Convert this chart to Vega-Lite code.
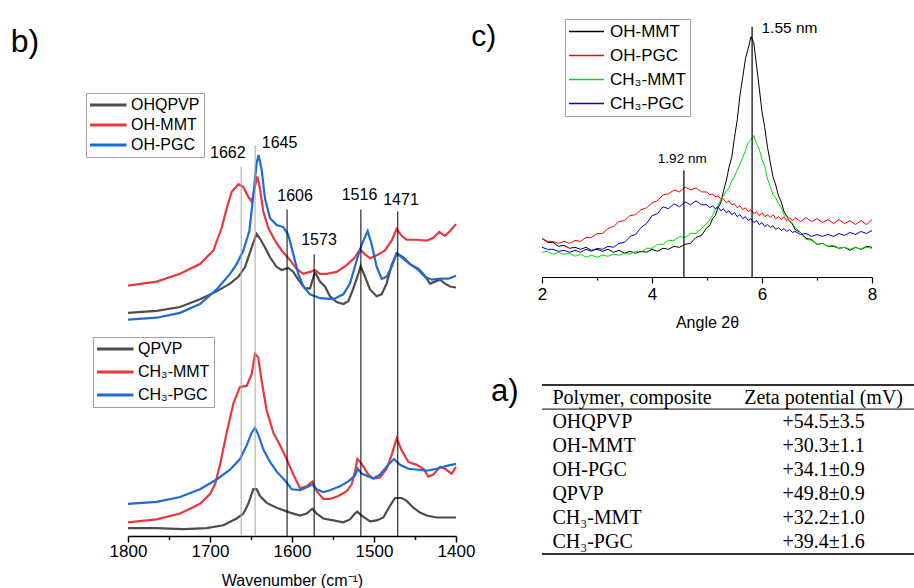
{
  "$schema": "https://vega.github.io/schema/vega-lite/v6.json",
  "padding": {"left": 10, "top": 0, "right": 0, "bottom": 0},
  "config": {"view": {"stroke": null}, "font": "Liberation Sans"},
  "datasets": {
    "ftir_top": [
      {"sample":"OHQPVP","wn":1800,"abs":2.29},{"sample":"OHQPVP","wn":1765,"abs":2.31},{"sample":"OHQPVP","wn":1736.6,"abs":2.35},{"sample":"OHQPVP","wn":1712.2,"abs":2.43},{"sample":"OHQPVP","wn":1691.9,"abs":2.51},{"sample":"OHQPVP","wn":1675.6,"abs":2.59},{"sample":"OHQPVP","wn":1665.4,"abs":2.66},{"sample":"OHQPVP","wn":1657.3,"abs":2.76},{"sample":"OHQPVP","wn":1652.0,"abs":2.89},{"sample":"OHQPVP","wn":1647.2,"abs":3.01},{"sample":"OHQPVP","wn":1643.1,"abs":3.10},{"sample":"OHQPVP","wn":1638.2,"abs":3.04},{"sample":"OHQPVP","wn":1632.9,"abs":2.96},{"sample":"OHQPVP","wn":1626.8,"abs":2.86},{"sample":"OHQPVP","wn":1618.7,"abs":2.76},{"sample":"OHQPVP","wn":1612.6,"abs":2.73},{"sample":"OHQPVP","wn":1604.5,"abs":2.75},{"sample":"OHQPVP","wn":1598.4,"abs":2.71},{"sample":"OHQPVP","wn":1592.3,"abs":2.63},{"sample":"OHQPVP","wn":1584.1,"abs":2.54},{"sample":"OHQPVP","wn":1578.0,"abs":2.54},{"sample":"OHQPVP","wn":1572.0,"abs":2.71},{"sample":"OHQPVP","wn":1565.9,"abs":2.61},{"sample":"OHQPVP","wn":1559.8,"abs":2.56},{"sample":"OHQPVP","wn":1553.7,"abs":2.46},{"sample":"OHQPVP","wn":1545.5,"abs":2.40},{"sample":"OHQPVP","wn":1537.4,"abs":2.38},{"sample":"OHQPVP","wn":1531.3,"abs":2.41},{"sample":"OHQPVP","wn":1525.2,"abs":2.54},{"sample":"OHQPVP","wn":1519.1,"abs":2.69},{"sample":"OHQPVP","wn":1516.3,"abs":2.77},{"sample":"OHQPVP","wn":1511.0,"abs":2.66},{"sample":"OHQPVP","wn":1504.9,"abs":2.53},{"sample":"OHQPVP","wn":1496.7,"abs":2.46},{"sample":"OHQPVP","wn":1490.7,"abs":2.48},{"sample":"OHQPVP","wn":1484.6,"abs":2.59},{"sample":"OHQPVP","wn":1478.5,"abs":2.78},{"sample":"OHQPVP","wn":1472.4,"abs":2.90},{"sample":"OHQPVP","wn":1464.2,"abs":2.86},{"sample":"OHQPVP","wn":1456.1,"abs":2.79},{"sample":"OHQPVP","wn":1445.9,"abs":2.74},{"sample":"OHQPVP","wn":1439.8,"abs":2.69},{"sample":"OHQPVP","wn":1431.7,"abs":2.59},{"sample":"OHQPVP","wn":1425.6,"abs":2.61},{"sample":"OHQPVP","wn":1419.5,"abs":2.63},{"sample":"OHQPVP","wn":1413.4,"abs":2.59},{"sample":"OHQPVP","wn":1407.3,"abs":2.56},{"sample":"OHQPVP","wn":1400,"abs":2.55},
      {"sample":"OH-MMT","wn":1800,"abs":2.57},{"sample":"OH-MMT","wn":1765,"abs":2.61},{"sample":"OH-MMT","wn":1736.6,"abs":2.69},{"sample":"OH-MMT","wn":1712.2,"abs":2.79},{"sample":"OH-MMT","wn":1695.9,"abs":2.93},{"sample":"OH-MMT","wn":1685.8,"abs":3.16},{"sample":"OH-MMT","wn":1679.7,"abs":3.36},{"sample":"OH-MMT","wn":1673.6,"abs":3.53},{"sample":"OH-MMT","wn":1665.4,"abs":3.61},{"sample":"OH-MMT","wn":1659.3,"abs":3.58},{"sample":"OH-MMT","wn":1653.3,"abs":3.48},{"sample":"OH-MMT","wn":1649.2,"abs":3.43},{"sample":"OH-MMT","wn":1645.1,"abs":3.59},{"sample":"OH-MMT","wn":1642.3,"abs":3.69},{"sample":"OH-MMT","wn":1639.0,"abs":3.56},{"sample":"OH-MMT","wn":1635.0,"abs":3.33},{"sample":"OH-MMT","wn":1628.9,"abs":3.16},{"sample":"OH-MMT","wn":1620.7,"abs":3.03},{"sample":"OH-MMT","wn":1612.6,"abs":2.93},{"sample":"OH-MMT","wn":1602.4,"abs":2.83},{"sample":"OH-MMT","wn":1594.3,"abs":2.74},{"sample":"OH-MMT","wn":1586.2,"abs":2.69},{"sample":"OH-MMT","wn":1578.0,"abs":2.71},{"sample":"OH-MMT","wn":1572.0,"abs":2.73},{"sample":"OH-MMT","wn":1565.9,"abs":2.69},{"sample":"OH-MMT","wn":1557.7,"abs":2.69},{"sample":"OH-MMT","wn":1545.5,"abs":2.71},{"sample":"OH-MMT","wn":1533.3,"abs":2.78},{"sample":"OH-MMT","wn":1523.2,"abs":2.86},{"sample":"OH-MMT","wn":1517.1,"abs":2.94},{"sample":"OH-MMT","wn":1511.0,"abs":2.89},{"sample":"OH-MMT","wn":1504.9,"abs":2.85},{"sample":"OH-MMT","wn":1496.7,"abs":2.88},{"sample":"OH-MMT","wn":1486.6,"abs":2.93},{"sample":"OH-MMT","wn":1478.5,"abs":3.03},{"sample":"OH-MMT","wn":1472.4,"abs":3.15},{"sample":"OH-MMT","wn":1466.3,"abs":3.08},{"sample":"OH-MMT","wn":1460.2,"abs":3.04},{"sample":"OH-MMT","wn":1448.0,"abs":3.04},{"sample":"OH-MMT","wn":1435.8,"abs":3.03},{"sample":"OH-MMT","wn":1427.6,"abs":3.06},{"sample":"OH-MMT","wn":1420.3,"abs":3.12},{"sample":"OH-MMT","wn":1413.4,"abs":3.08},{"sample":"OH-MMT","wn":1407.3,"abs":3.13},{"sample":"OH-MMT","wn":1400,"abs":3.20},
      {"sample":"OH-PGC","wn":1800,"abs":2.22},{"sample":"OH-PGC","wn":1765,"abs":2.24},{"sample":"OH-PGC","wn":1736.6,"abs":2.29},{"sample":"OH-PGC","wn":1712.2,"abs":2.38},{"sample":"OH-PGC","wn":1691.9,"abs":2.53},{"sample":"OH-PGC","wn":1675.6,"abs":2.69},{"sample":"OH-PGC","wn":1667.5,"abs":2.79},{"sample":"OH-PGC","wn":1659.3,"abs":2.93},{"sample":"OH-PGC","wn":1652.0,"abs":3.13},{"sample":"OH-PGC","wn":1647.2,"abs":3.49},{"sample":"OH-PGC","wn":1643.1,"abs":3.83},{"sample":"OH-PGC","wn":1640.7,"abs":3.91},{"sample":"OH-PGC","wn":1637.0,"abs":3.76},{"sample":"OH-PGC","wn":1632.9,"abs":3.46},{"sample":"OH-PGC","wn":1626.8,"abs":3.26},{"sample":"OH-PGC","wn":1618.7,"abs":3.19},{"sample":"OH-PGC","wn":1610.6,"abs":3.17},{"sample":"OH-PGC","wn":1604.5,"abs":3.09},{"sample":"OH-PGC","wn":1598.4,"abs":2.89},{"sample":"OH-PGC","wn":1592.3,"abs":2.69},{"sample":"OH-PGC","wn":1586.2,"abs":2.56},{"sample":"OH-PGC","wn":1578.0,"abs":2.48},{"sample":"OH-PGC","wn":1565.9,"abs":2.44},{"sample":"OH-PGC","wn":1549.6,"abs":2.43},{"sample":"OH-PGC","wn":1537.4,"abs":2.48},{"sample":"OH-PGC","wn":1529.3,"abs":2.59},{"sample":"OH-PGC","wn":1521.1,"abs":2.83},{"sample":"OH-PGC","wn":1515.0,"abs":2.99},{"sample":"OH-PGC","wn":1507.7,"abs":3.13},{"sample":"OH-PGC","wn":1502.8,"abs":2.99},{"sample":"OH-PGC","wn":1496.7,"abs":2.76},{"sample":"OH-PGC","wn":1490.7,"abs":2.64},{"sample":"OH-PGC","wn":1484.6,"abs":2.66},{"sample":"OH-PGC","wn":1478.5,"abs":2.76},{"sample":"OH-PGC","wn":1472.4,"abs":2.90},{"sample":"OH-PGC","wn":1466.3,"abs":2.86},{"sample":"OH-PGC","wn":1456.1,"abs":2.79},{"sample":"OH-PGC","wn":1445.9,"abs":2.73},{"sample":"OH-PGC","wn":1437.8,"abs":2.66},{"sample":"OH-PGC","wn":1429.7,"abs":2.63},{"sample":"OH-PGC","wn":1419.5,"abs":2.64},{"sample":"OH-PGC","wn":1409.3,"abs":2.64},{"sample":"OH-PGC","wn":1400,"abs":2.67}
    ],
    "ftir_bottom": [
      {"sample":"QPVP","wn":1800,"abs":0.08},{"sample":"QPVP","wn":1765,"abs":0.08},{"sample":"QPVP","wn":1732.5,"abs":0.07},{"sample":"QPVP","wn":1704.1,"abs":0.08},{"sample":"QPVP","wn":1683.7,"abs":0.11},{"sample":"QPVP","wn":1667.5,"abs":0.18},{"sample":"QPVP","wn":1659.3,"abs":0.23},{"sample":"QPVP","wn":1653.3,"abs":0.33},{"sample":"QPVP","wn":1647.2,"abs":0.48},{"sample":"QPVP","wn":1643.1,"abs":0.48},{"sample":"QPVP","wn":1639.0,"abs":0.41},{"sample":"QPVP","wn":1630.9,"abs":0.34},{"sample":"QPVP","wn":1618.7,"abs":0.29},{"sample":"QPVP","wn":1602.4,"abs":0.24},{"sample":"QPVP","wn":1590.2,"abs":0.21},{"sample":"QPVP","wn":1582.1,"abs":0.23},{"sample":"QPVP","wn":1575.2,"abs":0.28},{"sample":"QPVP","wn":1569.9,"abs":0.23},{"sample":"QPVP","wn":1561.8,"abs":0.18},{"sample":"QPVP","wn":1549.6,"abs":0.16},{"sample":"QPVP","wn":1537.4,"abs":0.14},{"sample":"QPVP","wn":1529.3,"abs":0.17},{"sample":"QPVP","wn":1523.2,"abs":0.23},{"sample":"QPVP","wn":1520.3,"abs":0.25},{"sample":"QPVP","wn":1515.0,"abs":0.21},{"sample":"QPVP","wn":1504.9,"abs":0.15},{"sample":"QPVP","wn":1496.7,"abs":0.16},{"sample":"QPVP","wn":1488.6,"abs":0.19},{"sample":"QPVP","wn":1480.5,"abs":0.31},{"sample":"QPVP","wn":1474.4,"abs":0.39},{"sample":"QPVP","wn":1466.3,"abs":0.39},{"sample":"QPVP","wn":1460.2,"abs":0.36},{"sample":"QPVP","wn":1452.0,"abs":0.29},{"sample":"QPVP","wn":1443.9,"abs":0.24},{"sample":"QPVP","wn":1435.8,"abs":0.21},{"sample":"QPVP","wn":1423.6,"abs":0.19},{"sample":"QPVP","wn":1411.4,"abs":0.19},{"sample":"QPVP","wn":1400,"abs":0.19},
      {"sample":"CH₃-MMT","wn":1800,"abs":0.14},{"sample":"CH₃-MMT","wn":1765,"abs":0.17},{"sample":"CH₃-MMT","wn":1736.6,"abs":0.23},{"sample":"CH₃-MMT","wn":1712.2,"abs":0.33},{"sample":"CH₃-MMT","wn":1700,"abs":0.43},{"sample":"CH₃-MMT","wn":1693.9,"abs":0.53},{"sample":"CH₃-MMT","wn":1687.8,"abs":0.73},{"sample":"CH₃-MMT","wn":1679.7,"abs":1.06},{"sample":"CH₃-MMT","wn":1671.5,"abs":1.36},{"sample":"CH₃-MMT","wn":1663.4,"abs":1.53},{"sample":"CH₃-MMT","wn":1655.3,"abs":1.54},{"sample":"CH₃-MMT","wn":1649.2,"abs":1.66},{"sample":"CH₃-MMT","wn":1645.1,"abs":1.87},{"sample":"CH₃-MMT","wn":1641.1,"abs":1.83},{"sample":"CH₃-MMT","wn":1637,"abs":1.59},{"sample":"CH₃-MMT","wn":1630.9,"abs":1.29},{"sample":"CH₃-MMT","wn":1622.8,"abs":1.06},{"sample":"CH₃-MMT","wn":1614.6,"abs":0.93},{"sample":"CH₃-MMT","wn":1606.5,"abs":0.79},{"sample":"CH₃-MMT","wn":1598.4,"abs":0.63},{"sample":"CH₃-MMT","wn":1590.2,"abs":0.49},{"sample":"CH₃-MMT","wn":1582.1,"abs":0.51},{"sample":"CH₃-MMT","wn":1575.2,"abs":0.56},{"sample":"CH₃-MMT","wn":1569.9,"abs":0.46},{"sample":"CH₃-MMT","wn":1561.8,"abs":0.38},{"sample":"CH₃-MMT","wn":1553.7,"abs":0.38},{"sample":"CH₃-MMT","wn":1543.5,"abs":0.41},{"sample":"CH₃-MMT","wn":1533.3,"abs":0.46},{"sample":"CH₃-MMT","wn":1527.2,"abs":0.53},{"sample":"CH₃-MMT","wn":1523.2,"abs":0.66},{"sample":"CH₃-MMT","wn":1520.3,"abs":0.79},{"sample":"CH₃-MMT","wn":1515,"abs":0.74},{"sample":"CH₃-MMT","wn":1506.9,"abs":0.63},{"sample":"CH₃-MMT","wn":1500.8,"abs":0.59},{"sample":"CH₃-MMT","wn":1492.7,"abs":0.60},{"sample":"CH₃-MMT","wn":1484.6,"abs":0.69},{"sample":"CH₃-MMT","wn":1478.5,"abs":0.83},{"sample":"CH₃-MMT","wn":1472.4,"abs":1.00},{"sample":"CH₃-MMT","wn":1466.3,"abs":0.88},{"sample":"CH₃-MMT","wn":1458.1,"abs":0.76},{"sample":"CH₃-MMT","wn":1448,"abs":0.73},{"sample":"CH₃-MMT","wn":1439.8,"abs":0.69},{"sample":"CH₃-MMT","wn":1433.7,"abs":0.61},{"sample":"CH₃-MMT","wn":1427.6,"abs":0.63},{"sample":"CH₃-MMT","wn":1419.5,"abs":0.71},{"sample":"CH₃-MMT","wn":1413.4,"abs":0.69},{"sample":"CH₃-MMT","wn":1405.3,"abs":0.64},{"sample":"CH₃-MMT","wn":1400,"abs":0.71},
      {"sample":"CH₃-PGC","wn":1800,"abs":0.33},{"sample":"CH₃-PGC","wn":1765,"abs":0.35},{"sample":"CH₃-PGC","wn":1736.6,"abs":0.40},{"sample":"CH₃-PGC","wn":1712.2,"abs":0.48},{"sample":"CH₃-PGC","wn":1691.9,"abs":0.58},{"sample":"CH₃-PGC","wn":1675.6,"abs":0.68},{"sample":"CH₃-PGC","wn":1663.4,"abs":0.79},{"sample":"CH₃-PGC","wn":1655.3,"abs":0.93},{"sample":"CH₃-PGC","wn":1649.2,"abs":1.06},{"sample":"CH₃-PGC","wn":1645.1,"abs":1.11},{"sample":"CH₃-PGC","wn":1641.1,"abs":1.04},{"sample":"CH₃-PGC","wn":1635,"abs":0.89},{"sample":"CH₃-PGC","wn":1626.8,"abs":0.76},{"sample":"CH₃-PGC","wn":1618.7,"abs":0.66},{"sample":"CH₃-PGC","wn":1608.5,"abs":0.57},{"sample":"CH₃-PGC","wn":1600.4,"abs":0.48},{"sample":"CH₃-PGC","wn":1590.2,"abs":0.47},{"sample":"CH₃-PGC","wn":1582.1,"abs":0.50},{"sample":"CH₃-PGC","wn":1575.2,"abs":0.53},{"sample":"CH₃-PGC","wn":1569.9,"abs":0.48},{"sample":"CH₃-PGC","wn":1561.8,"abs":0.45},{"sample":"CH₃-PGC","wn":1553.7,"abs":0.47},{"sample":"CH₃-PGC","wn":1541.5,"abs":0.51},{"sample":"CH₃-PGC","wn":1531.3,"abs":0.56},{"sample":"CH₃-PGC","wn":1523.2,"abs":0.62},{"sample":"CH₃-PGC","wn":1519.9,"abs":0.69},{"sample":"CH₃-PGC","wn":1515,"abs":0.64},{"sample":"CH₃-PGC","wn":1506.9,"abs":0.61},{"sample":"CH₃-PGC","wn":1500.8,"abs":0.59},{"sample":"CH₃-PGC","wn":1492.7,"abs":0.63},{"sample":"CH₃-PGC","wn":1482.5,"abs":0.73},{"sample":"CH₃-PGC","wn":1475.6,"abs":0.79},{"sample":"CH₃-PGC","wn":1468.3,"abs":0.73},{"sample":"CH₃-PGC","wn":1458.1,"abs":0.69},{"sample":"CH₃-PGC","wn":1445.9,"abs":0.68},{"sample":"CH₃-PGC","wn":1435.8,"abs":0.67},{"sample":"CH₃-PGC","wn":1423.6,"abs":0.69},{"sample":"CH₃-PGC","wn":1411.4,"abs":0.72},{"sample":"CH₃-PGC","wn":1400,"abs":0.74}
    ],
    "ftir_peaks": [
      {"wn":1662,"label":"1662","top":3.79,"lx":1678.3,"ly":3.93},
      {"wn":1645,"label":"1645","top":4.01,"lx":1615.2,"ly":4.03},
      {"wn":1606,"label":"1606","top":3.35,"lx":1596.3,"ly":3.49},
      {"wn":1573,"label":"1573","top":2.89,"lx":1567.1,"ly":3.04},
      {"wn":1516,"label":"1516","top":3.35,"lx":1517.7,"ly":3.50},
      {"wn":1471,"label":"1471","top":3.33,"lx":1467.1,"ly":3.45}
    ],
    "xrd": [
      {"sample":"OH-MMT","angle":2.0,"intensity":0.39},{"sample":"OH-MMT","angle":2.1,"intensity":0.35},{"sample":"OH-MMT","angle":2.2,"intensity":0.35},{"sample":"OH-MMT","angle":2.3,"intensity":0.31},{"sample":"OH-MMT","angle":2.4,"intensity":0.32},{"sample":"OH-MMT","angle":2.5,"intensity":0.29},{"sample":"OH-MMT","angle":2.6,"intensity":0.30},{"sample":"OH-MMT","angle":2.7,"intensity":0.28},{"sample":"OH-MMT","angle":2.8,"intensity":0.30},{"sample":"OH-MMT","angle":2.9,"intensity":0.27},{"sample":"OH-MMT","angle":3.0,"intensity":0.28},{"sample":"OH-MMT","angle":3.1,"intensity":0.26},{"sample":"OH-MMT","angle":3.2,"intensity":0.28},{"sample":"OH-MMT","angle":3.3,"intensity":0.25},{"sample":"OH-MMT","angle":3.4,"intensity":0.27},{"sample":"OH-MMT","angle":3.5,"intensity":0.24},{"sample":"OH-MMT","angle":3.6,"intensity":0.26},{"sample":"OH-MMT","angle":3.7,"intensity":0.24},{"sample":"OH-MMT","angle":3.8,"intensity":0.26},{"sample":"OH-MMT","angle":3.9,"intensity":0.25},{"sample":"OH-MMT","angle":4.0,"intensity":0.28},{"sample":"OH-MMT","angle":4.1,"intensity":0.26},{"sample":"OH-MMT","angle":4.2,"intensity":0.29},{"sample":"OH-MMT","angle":4.3,"intensity":0.28},{"sample":"OH-MMT","angle":4.4,"intensity":0.31},{"sample":"OH-MMT","angle":4.5,"intensity":0.30},{"sample":"OH-MMT","angle":4.6,"intensity":0.33},{"sample":"OH-MMT","angle":4.7,"intensity":0.34},{"sample":"OH-MMT","angle":4.8,"intensity":0.40},{"sample":"OH-MMT","angle":4.9,"intensity":0.42},{"sample":"OH-MMT","angle":5.0,"intensity":0.50},{"sample":"OH-MMT","angle":5.05,"intensity":0.52},{"sample":"OH-MMT","angle":5.1,"intensity":0.59},{"sample":"OH-MMT","angle":5.15,"intensity":0.62},{"sample":"OH-MMT","angle":5.2,"intensity":0.70},{"sample":"OH-MMT","angle":5.25,"intensity":0.75},{"sample":"OH-MMT","angle":5.3,"intensity":0.87},{"sample":"OH-MMT","angle":5.35,"intensity":0.97},{"sample":"OH-MMT","angle":5.4,"intensity":1.11},{"sample":"OH-MMT","angle":5.45,"intensity":1.21},{"sample":"OH-MMT","angle":5.5,"intensity":1.41},{"sample":"OH-MMT","angle":5.55,"intensity":1.59},{"sample":"OH-MMT","angle":5.6,"intensity":1.84},{"sample":"OH-MMT","angle":5.65,"intensity":2.02},{"sample":"OH-MMT","angle":5.7,"intensity":2.21},{"sample":"OH-MMT","angle":5.75,"intensity":2.31},{"sample":"OH-MMT","angle":5.8,"intensity":2.43},{"sample":"OH-MMT","angle":5.85,"intensity":2.37},{"sample":"OH-MMT","angle":5.9,"intensity":2.14},{"sample":"OH-MMT","angle":5.95,"intensity":1.91},{"sample":"OH-MMT","angle":6.0,"intensity":1.67},{"sample":"OH-MMT","angle":6.05,"intensity":1.51},{"sample":"OH-MMT","angle":6.1,"intensity":1.31},{"sample":"OH-MMT","angle":6.15,"intensity":1.16},{"sample":"OH-MMT","angle":6.2,"intensity":1.01},{"sample":"OH-MMT","angle":6.25,"intensity":0.93},{"sample":"OH-MMT","angle":6.3,"intensity":0.82},{"sample":"OH-MMT","angle":6.35,"intensity":0.76},{"sample":"OH-MMT","angle":6.4,"intensity":0.66},{"sample":"OH-MMT","angle":6.45,"intensity":0.62},{"sample":"OH-MMT","angle":6.5,"intensity":0.56},{"sample":"OH-MMT","angle":6.55,"intensity":0.54},{"sample":"OH-MMT","angle":6.6,"intensity":0.48},{"sample":"OH-MMT","angle":6.7,"intensity":0.45},{"sample":"OH-MMT","angle":6.8,"intensity":0.39},{"sample":"OH-MMT","angle":6.9,"intensity":0.38},{"sample":"OH-MMT","angle":7.0,"intensity":0.33},{"sample":"OH-MMT","angle":7.1,"intensity":0.34},{"sample":"OH-MMT","angle":7.2,"intensity":0.31},{"sample":"OH-MMT","angle":7.3,"intensity":0.31},{"sample":"OH-MMT","angle":7.4,"intensity":0.29},{"sample":"OH-MMT","angle":7.5,"intensity":0.30},{"sample":"OH-MMT","angle":7.6,"intensity":0.27},{"sample":"OH-MMT","angle":7.7,"intensity":0.30},{"sample":"OH-MMT","angle":7.8,"intensity":0.28},{"sample":"OH-MMT","angle":7.9,"intensity":0.31},{"sample":"OH-MMT","angle":8.0,"intensity":0.30},
      {"sample":"OH-PGC","angle":2.0,"intensity":0.39},{"sample":"OH-PGC","angle":2.1,"intensity":0.36},{"sample":"OH-PGC","angle":2.2,"intensity":0.36},{"sample":"OH-PGC","angle":2.3,"intensity":0.34},{"sample":"OH-PGC","angle":2.4,"intensity":0.36},{"sample":"OH-PGC","angle":2.5,"intensity":0.34},{"sample":"OH-PGC","angle":2.6,"intensity":0.37},{"sample":"OH-PGC","angle":2.7,"intensity":0.36},{"sample":"OH-PGC","angle":2.8,"intensity":0.40},{"sample":"OH-PGC","angle":2.9,"intensity":0.40},{"sample":"OH-PGC","angle":3.0,"intensity":0.44},{"sample":"OH-PGC","angle":3.1,"intensity":0.44},{"sample":"OH-PGC","angle":3.2,"intensity":0.49},{"sample":"OH-PGC","angle":3.3,"intensity":0.51},{"sample":"OH-PGC","angle":3.4,"intensity":0.56},{"sample":"OH-PGC","angle":3.5,"intensity":0.57},{"sample":"OH-PGC","angle":3.6,"intensity":0.62},{"sample":"OH-PGC","angle":3.7,"intensity":0.63},{"sample":"OH-PGC","angle":3.8,"intensity":0.68},{"sample":"OH-PGC","angle":3.9,"intensity":0.70},{"sample":"OH-PGC","angle":4.0,"intensity":0.75},{"sample":"OH-PGC","angle":4.1,"intensity":0.77},{"sample":"OH-PGC","angle":4.2,"intensity":0.83},{"sample":"OH-PGC","angle":4.3,"intensity":0.84},{"sample":"OH-PGC","angle":4.4,"intensity":0.88},{"sample":"OH-PGC","angle":4.5,"intensity":0.86},{"sample":"OH-PGC","angle":4.6,"intensity":0.91},{"sample":"OH-PGC","angle":4.7,"intensity":0.88},{"sample":"OH-PGC","angle":4.8,"intensity":0.90},{"sample":"OH-PGC","angle":4.9,"intensity":0.86},{"sample":"OH-PGC","angle":5.0,"intensity":0.86},{"sample":"OH-PGC","angle":5.05,"intensity":0.83},{"sample":"OH-PGC","angle":5.1,"intensity":0.84},{"sample":"OH-PGC","angle":5.15,"intensity":0.81},{"sample":"OH-PGC","angle":5.2,"intensity":0.82},{"sample":"OH-PGC","angle":5.25,"intensity":0.79},{"sample":"OH-PGC","angle":5.3,"intensity":0.79},{"sample":"OH-PGC","angle":5.35,"intensity":0.75},{"sample":"OH-PGC","angle":5.4,"intensity":0.77},{"sample":"OH-PGC","angle":5.45,"intensity":0.73},{"sample":"OH-PGC","angle":5.5,"intensity":0.74},{"sample":"OH-PGC","angle":5.55,"intensity":0.70},{"sample":"OH-PGC","angle":5.6,"intensity":0.72},{"sample":"OH-PGC","angle":5.65,"intensity":0.68},{"sample":"OH-PGC","angle":5.7,"intensity":0.70},{"sample":"OH-PGC","angle":5.75,"intensity":0.66},{"sample":"OH-PGC","angle":5.8,"intensity":0.68},{"sample":"OH-PGC","angle":5.85,"intensity":0.64},{"sample":"OH-PGC","angle":5.9,"intensity":0.66},{"sample":"OH-PGC","angle":5.95,"intensity":0.62},{"sample":"OH-PGC","angle":6.0,"intensity":0.65},{"sample":"OH-PGC","angle":6.05,"intensity":0.61},{"sample":"OH-PGC","angle":6.1,"intensity":0.63},{"sample":"OH-PGC","angle":6.15,"intensity":0.60},{"sample":"OH-PGC","angle":6.2,"intensity":0.63},{"sample":"OH-PGC","angle":6.25,"intensity":0.59},{"sample":"OH-PGC","angle":6.3,"intensity":0.61},{"sample":"OH-PGC","angle":6.35,"intensity":0.58},{"sample":"OH-PGC","angle":6.4,"intensity":0.61},{"sample":"OH-PGC","angle":6.45,"intensity":0.57},{"sample":"OH-PGC","angle":6.5,"intensity":0.60},{"sample":"OH-PGC","angle":6.55,"intensity":0.57},{"sample":"OH-PGC","angle":6.6,"intensity":0.60},{"sample":"OH-PGC","angle":6.7,"intensity":0.56},{"sample":"OH-PGC","angle":6.8,"intensity":0.60},{"sample":"OH-PGC","angle":6.9,"intensity":0.56},{"sample":"OH-PGC","angle":7.0,"intensity":0.59},{"sample":"OH-PGC","angle":7.1,"intensity":0.55},{"sample":"OH-PGC","angle":7.2,"intensity":0.58},{"sample":"OH-PGC","angle":7.3,"intensity":0.54},{"sample":"OH-PGC","angle":7.4,"intensity":0.58},{"sample":"OH-PGC","angle":7.5,"intensity":0.54},{"sample":"OH-PGC","angle":7.6,"intensity":0.57},{"sample":"OH-PGC","angle":7.7,"intensity":0.53},{"sample":"OH-PGC","angle":7.8,"intensity":0.57},{"sample":"OH-PGC","angle":7.9,"intensity":0.53},{"sample":"OH-PGC","angle":8.0,"intensity":0.58},
      {"sample":"CH₃-MMT","angle":2.0,"intensity":0.25},{"sample":"CH₃-MMT","angle":2.1,"intensity":0.26},{"sample":"CH₃-MMT","angle":2.2,"intensity":0.23},{"sample":"CH₃-MMT","angle":2.3,"intensity":0.25},{"sample":"CH₃-MMT","angle":2.4,"intensity":0.23},{"sample":"CH₃-MMT","angle":2.5,"intensity":0.24},{"sample":"CH₃-MMT","angle":2.6,"intensity":0.21},{"sample":"CH₃-MMT","angle":2.7,"intensity":0.23},{"sample":"CH₃-MMT","angle":2.8,"intensity":0.20},{"sample":"CH₃-MMT","angle":2.9,"intensity":0.22},{"sample":"CH₃-MMT","angle":3.0,"intensity":0.20},{"sample":"CH₃-MMT","angle":3.1,"intensity":0.22},{"sample":"CH₃-MMT","angle":3.2,"intensity":0.21},{"sample":"CH₃-MMT","angle":3.3,"intensity":0.23},{"sample":"CH₃-MMT","angle":3.4,"intensity":0.22},{"sample":"CH₃-MMT","angle":3.5,"intensity":0.24},{"sample":"CH₃-MMT","angle":3.6,"intensity":0.23},{"sample":"CH₃-MMT","angle":3.7,"intensity":0.26},{"sample":"CH₃-MMT","angle":3.8,"intensity":0.25},{"sample":"CH₃-MMT","angle":3.9,"intensity":0.29},{"sample":"CH₃-MMT","angle":4.0,"intensity":0.29},{"sample":"CH₃-MMT","angle":4.1,"intensity":0.33},{"sample":"CH₃-MMT","angle":4.2,"intensity":0.33},{"sample":"CH₃-MMT","angle":4.3,"intensity":0.37},{"sample":"CH₃-MMT","angle":4.4,"intensity":0.37},{"sample":"CH₃-MMT","angle":4.5,"intensity":0.41},{"sample":"CH₃-MMT","angle":4.6,"intensity":0.40},{"sample":"CH₃-MMT","angle":4.7,"intensity":0.44},{"sample":"CH₃-MMT","angle":4.8,"intensity":0.44},{"sample":"CH₃-MMT","angle":4.9,"intensity":0.49},{"sample":"CH₃-MMT","angle":5.0,"intensity":0.54},{"sample":"CH₃-MMT","angle":5.05,"intensity":0.58},{"sample":"CH₃-MMT","angle":5.1,"intensity":0.62},{"sample":"CH₃-MMT","angle":5.15,"intensity":0.68},{"sample":"CH₃-MMT","angle":5.2,"intensity":0.72},{"sample":"CH₃-MMT","angle":5.25,"intensity":0.78},{"sample":"CH₃-MMT","angle":5.3,"intensity":0.82},{"sample":"CH₃-MMT","angle":5.35,"intensity":0.87},{"sample":"CH₃-MMT","angle":5.4,"intensity":0.90},{"sample":"CH₃-MMT","angle":5.45,"intensity":0.97},{"sample":"CH₃-MMT","angle":5.5,"intensity":1.02},{"sample":"CH₃-MMT","angle":5.55,"intensity":1.08},{"sample":"CH₃-MMT","angle":5.6,"intensity":1.14},{"sample":"CH₃-MMT","angle":5.65,"intensity":1.21},{"sample":"CH₃-MMT","angle":5.7,"intensity":1.28},{"sample":"CH₃-MMT","angle":5.75,"intensity":1.36},{"sample":"CH₃-MMT","angle":5.8,"intensity":1.39},{"sample":"CH₃-MMT","angle":5.85,"intensity":1.43},{"sample":"CH₃-MMT","angle":5.9,"intensity":1.35},{"sample":"CH₃-MMT","angle":5.95,"intensity":1.29},{"sample":"CH₃-MMT","angle":6.0,"intensity":1.19},{"sample":"CH₃-MMT","angle":6.05,"intensity":1.12},{"sample":"CH₃-MMT","angle":6.1,"intensity":0.99},{"sample":"CH₃-MMT","angle":6.15,"intensity":0.92},{"sample":"CH₃-MMT","angle":6.2,"intensity":0.83},{"sample":"CH₃-MMT","angle":6.25,"intensity":0.80},{"sample":"CH₃-MMT","angle":6.3,"intensity":0.74},{"sample":"CH₃-MMT","angle":6.35,"intensity":0.70},{"sample":"CH₃-MMT","angle":6.4,"intensity":0.63},{"sample":"CH₃-MMT","angle":6.45,"intensity":0.61},{"sample":"CH₃-MMT","angle":6.5,"intensity":0.56},{"sample":"CH₃-MMT","angle":6.55,"intensity":0.55},{"sample":"CH₃-MMT","angle":6.6,"intensity":0.50},{"sample":"CH₃-MMT","angle":6.7,"intensity":0.45},{"sample":"CH₃-MMT","angle":6.8,"intensity":0.38},{"sample":"CH₃-MMT","angle":6.9,"intensity":0.37},{"sample":"CH₃-MMT","angle":7.0,"intensity":0.33},{"sample":"CH₃-MMT","angle":7.1,"intensity":0.34},{"sample":"CH₃-MMT","angle":7.2,"intensity":0.31},{"sample":"CH₃-MMT","angle":7.3,"intensity":0.32},{"sample":"CH₃-MMT","angle":7.4,"intensity":0.29},{"sample":"CH₃-MMT","angle":7.5,"intensity":0.30},{"sample":"CH₃-MMT","angle":7.6,"intensity":0.28},{"sample":"CH₃-MMT","angle":7.7,"intensity":0.30},{"sample":"CH₃-MMT","angle":7.8,"intensity":0.28},{"sample":"CH₃-MMT","angle":7.9,"intensity":0.30},{"sample":"CH₃-MMT","angle":8.0,"intensity":0.29},
      {"sample":"CH₃-PGC","angle":2.0,"intensity":0.30},{"sample":"CH₃-PGC","angle":2.1,"intensity":0.28},{"sample":"CH₃-PGC","angle":2.2,"intensity":0.28},{"sample":"CH₃-PGC","angle":2.3,"intensity":0.26},{"sample":"CH₃-PGC","angle":2.4,"intensity":0.27},{"sample":"CH₃-PGC","angle":2.5,"intensity":0.25},{"sample":"CH₃-PGC","angle":2.6,"intensity":0.27},{"sample":"CH₃-PGC","angle":2.7,"intensity":0.25},{"sample":"CH₃-PGC","angle":2.8,"intensity":0.28},{"sample":"CH₃-PGC","angle":2.9,"intensity":0.26},{"sample":"CH₃-PGC","angle":3.0,"intensity":0.29},{"sample":"CH₃-PGC","angle":3.1,"intensity":0.28},{"sample":"CH₃-PGC","angle":3.2,"intensity":0.31},{"sample":"CH₃-PGC","angle":3.3,"intensity":0.30},{"sample":"CH₃-PGC","angle":3.4,"intensity":0.34},{"sample":"CH₃-PGC","angle":3.5,"intensity":0.35},{"sample":"CH₃-PGC","angle":3.6,"intensity":0.41},{"sample":"CH₃-PGC","angle":3.7,"intensity":0.43},{"sample":"CH₃-PGC","angle":3.8,"intensity":0.50},{"sample":"CH₃-PGC","angle":3.9,"intensity":0.54},{"sample":"CH₃-PGC","angle":4.0,"intensity":0.62},{"sample":"CH₃-PGC","angle":4.1,"intensity":0.64},{"sample":"CH₃-PGC","angle":4.2,"intensity":0.71},{"sample":"CH₃-PGC","angle":4.3,"intensity":0.69},{"sample":"CH₃-PGC","angle":4.4,"intensity":0.74},{"sample":"CH₃-PGC","angle":4.5,"intensity":0.71},{"sample":"CH₃-PGC","angle":4.6,"intensity":0.76},{"sample":"CH₃-PGC","angle":4.7,"intensity":0.73},{"sample":"CH₃-PGC","angle":4.8,"intensity":0.77},{"sample":"CH₃-PGC","angle":4.9,"intensity":0.73},{"sample":"CH₃-PGC","angle":5.0,"intensity":0.73},{"sample":"CH₃-PGC","angle":5.05,"intensity":0.70},{"sample":"CH₃-PGC","angle":5.1,"intensity":0.72},{"sample":"CH₃-PGC","angle":5.15,"intensity":0.69},{"sample":"CH₃-PGC","angle":5.2,"intensity":0.71},{"sample":"CH₃-PGC","angle":5.25,"intensity":0.67},{"sample":"CH₃-PGC","angle":5.3,"intensity":0.69},{"sample":"CH₃-PGC","angle":5.35,"intensity":0.65},{"sample":"CH₃-PGC","angle":5.4,"intensity":0.67},{"sample":"CH₃-PGC","angle":5.45,"intensity":0.63},{"sample":"CH₃-PGC","angle":5.5,"intensity":0.65},{"sample":"CH₃-PGC","angle":5.55,"intensity":0.61},{"sample":"CH₃-PGC","angle":5.6,"intensity":0.63},{"sample":"CH₃-PGC","angle":5.65,"intensity":0.59},{"sample":"CH₃-PGC","angle":5.7,"intensity":0.61},{"sample":"CH₃-PGC","angle":5.75,"intensity":0.57},{"sample":"CH₃-PGC","angle":5.8,"intensity":0.59},{"sample":"CH₃-PGC","angle":5.85,"intensity":0.55},{"sample":"CH₃-PGC","angle":5.9,"intensity":0.57},{"sample":"CH₃-PGC","angle":5.95,"intensity":0.53},{"sample":"CH₃-PGC","angle":6.0,"intensity":0.55},{"sample":"CH₃-PGC","angle":6.05,"intensity":0.51},{"sample":"CH₃-PGC","angle":6.1,"intensity":0.53},{"sample":"CH₃-PGC","angle":6.15,"intensity":0.50},{"sample":"CH₃-PGC","angle":6.2,"intensity":0.52},{"sample":"CH₃-PGC","angle":6.25,"intensity":0.48},{"sample":"CH₃-PGC","angle":6.3,"intensity":0.50},{"sample":"CH₃-PGC","angle":6.35,"intensity":0.47},{"sample":"CH₃-PGC","angle":6.4,"intensity":0.49},{"sample":"CH₃-PGC","angle":6.45,"intensity":0.46},{"sample":"CH₃-PGC","angle":6.5,"intensity":0.48},{"sample":"CH₃-PGC","angle":6.55,"intensity":0.45},{"sample":"CH₃-PGC","angle":6.6,"intensity":0.46},{"sample":"CH₃-PGC","angle":6.7,"intensity":0.43},{"sample":"CH₃-PGC","angle":6.8,"intensity":0.44},{"sample":"CH₃-PGC","angle":6.9,"intensity":0.41},{"sample":"CH₃-PGC","angle":7.0,"intensity":0.43},{"sample":"CH₃-PGC","angle":7.1,"intensity":0.41},{"sample":"CH₃-PGC","angle":7.2,"intensity":0.43},{"sample":"CH₃-PGC","angle":7.3,"intensity":0.41},{"sample":"CH₃-PGC","angle":7.4,"intensity":0.44},{"sample":"CH₃-PGC","angle":7.5,"intensity":0.42},{"sample":"CH₃-PGC","angle":7.6,"intensity":0.45},{"sample":"CH₃-PGC","angle":7.7,"intensity":0.43},{"sample":"CH₃-PGC","angle":7.8,"intensity":0.46},{"sample":"CH₃-PGC","angle":7.9,"intensity":0.44},{"sample":"CH₃-PGC","angle":8.0,"intensity":0.47}
    ],
    "xrd_peaks": [
      {"angle":4.58,"label":"1.92 nm","top":1.08,"lx":4.55,"ly":1.19},
      {"angle":5.82,"label":"1.55 nm","top":2.53,"lx":6.50,"ly":2.52}
    ],
    "zeta": [
      {"row":0,"name":"Polymer, composite","zeta":"Zeta potential (mV)"},
      {"row":1,"name":"OHQPVP","zeta":"+54.5±3.5"},
      {"row":2,"name":"OH-MMT","zeta":"+30.3±1.1"},
      {"row":3,"name":"OH-PGC","zeta":"+34.1±0.9"},
      {"row":4,"name":"QPVP","zeta":"+49.8±0.9"},
      {"row":5,"name":"CH₃-MMT","zeta":"+32.2±1.0"},
      {"row":6,"name":"CH₃-PGC","zeta":"+39.4±1.6"}
    ]
  },
  "spacing": -4,
  "resolve": {"scale": {"color": "independent"}, "legend": {"color": "independent"}},
  "hconcat": [
    {
      "width": 328,
      "height": 536,
      "layer": [
        {
          "data": {"name": "ftir_top"},
          "mark": {"type": "line", "strokeWidth": 2.2},
          "encoding": {
            "x": {"field": "wn", "type": "quantitative", "scale": {"domain": [1800, 1400]},
              "axis": {"values": [1800, 1750, 1700, 1650, 1600, 1550, 1500, 1450, 1400], "format": "d", "labelExpr": "datum.value % 100 === 0 ? datum.label : ''", "title": "Wavenumber (cm⁻¹)", "grid": false, "labelFlush": false, "tickSize": {"condition": {"test": "datum.value % 100 !== 0", "value": 3.5}, "value": 6}, "tickWidth": 1.5, "tickColor": "#000000", "domainColor": "#000000", "domainWidth": 1.5, "labelFontSize": 17, "labelColor": "#000000", "labelPadding": 1, "titleFontSize": 16, "titleFontWeight": "normal", "titleColor": "#000000", "titlePadding": 13}},
            "y": {"field": "abs", "type": "quantitative", "scale": {"domain": [0, 5.36]}, "axis": null},
            "color": {"field": "sample", "type": "nominal",
              "scale": {"domain": ["OHQPVP", "OH-MMT", "OH-PGC"], "range": ["#4d4d4d", "#e8383d", "#1f6bd6"]},
              "legend": {"title": null, "orient": "none", "legendX": -42, "legendY": 93, "padding": 4, "strokeColor": "#a0a0a0", "fillColor": "#ffffff", "labelFontSize": 16, "labelColor": "#000000", "symbolType": "stroke", "symbolSize": 1444, "symbolStrokeWidth": 3, "clipHeight": 16, "rowPadding": 4, "labelOffset": 3, "symbolOffset": -3}}
          }
        },
        {
          "data": {"name": "ftir_bottom"},
          "mark": {"type": "line", "strokeWidth": 2.2},
          "encoding": {
            "x": {"field": "wn", "type": "quantitative"},
            "y": {"field": "abs", "type": "quantitative"},
            "color": {"field": "sample", "type": "nominal",
              "scale": {"domain": ["QPVP", "CH₃-MMT", "CH₃-PGC"], "range": ["#4d4d4d", "#e8383d", "#1f6bd6"]},
              "legend": {"title": null, "orient": "none", "legendX": -35, "legendY": 337, "padding": 4, "strokeColor": "#a0a0a0", "fillColor": "#ffffff", "labelFontSize": 16, "labelColor": "#000000", "symbolType": "stroke", "symbolSize": 1444, "symbolStrokeWidth": 3, "clipHeight": 16, "rowPadding": 7, "labelOffset": 3, "symbolOffset": -3}}
          }
        },
        {
          "data": {"name": "ftir_peaks"},
          "mark": {"type": "rule", "strokeWidth": 1},
          "encoding": {
            "x": {"field": "wn", "type": "quantitative"},
            "y": {"field": "top", "type": "quantitative"},
            "y2": {"datum": 0},
            "color": {"condition": {"test": "datum.wn > 1640", "value": "#a6a6a6"}, "value": "#000000"}
          }
        },
        {
          "data": {"name": "ftir_peaks"},
          "mark": {"type": "text", "fontSize": 16, "baseline": "middle", "align": "center", "color": "#000000"},
          "encoding": {
            "x": {"field": "lx", "type": "quantitative"},
            "y": {"field": "ly", "type": "quantitative"},
            "text": {"field": "label", "type": "nominal"}
          }
        },
        {
          "data": {"values": [{"panel": "b)", "wn": 1943, "abs": 4.97}]},
          "mark": {"type": "text", "fontSize": 32, "align": "left", "baseline": "alphabetic", "color": "#000000"},
          "encoding": {
            "x": {"field": "wn", "type": "quantitative"},
            "y": {"field": "abs", "type": "quantitative"},
            "text": {"field": "panel", "type": "nominal"}
          }
        }
      ],
      "resolve": {"scale": {"color": "independent"}}
    },
    {
      "spacing": 9,
      "resolve": {"scale": {"color": "independent"}, "legend": {"color": "independent"}},
      "vconcat": [
        {
          "width": 330,
          "height": 277,
          "layer": [
            {
              "data": {"name": "xrd"},
              "mark": {"type": "line", "strokeWidth": 1},
              "encoding": {
                "x": {"field": "angle", "type": "quantitative", "scale": {"domain": [2, 8]},
                  "axis": {"values": [2, 3, 4, 5, 6, 7, 8], "format": "d", "labelExpr": "datum.value % 2 === 0 ? datum.label : ''", "title": "Angle 2θ", "grid": false, "labelFlush": false, "tickSize": {"condition": {"test": "datum.value % 2 !== 0", "value": 3}, "value": 6}, "tickWidth": 1.2, "tickColor": "#000000", "domainColor": "#000000", "domainWidth": 1.2, "labelFontSize": 17, "labelColor": "#000000", "labelPadding": 3, "titleFontSize": 16, "titleFontWeight": "normal", "titleColor": "#000000", "titlePadding": 12}},
                "y": {"field": "intensity", "type": "quantitative", "scale": {"domain": [0, 2.77]}, "axis": null},
                "color": {"field": "sample", "type": "nominal",
                  "scale": {"domain": ["OH-MMT", "OH-PGC", "CH₃-MMT", "CH₃-PGC"], "range": ["#000000", "#ff0000", "#00dd00", "#0000cc"]},
                  "legend": {"title": null, "orient": "none", "legendX": 23, "legendY": 19, "padding": 4, "strokeColor": "#a0a0a0", "fillColor": "#ffffff", "labelFontSize": 17, "labelColor": "#000000", "symbolType": "stroke", "symbolSize": 1296, "symbolStrokeWidth": 1.3, "clipHeight": 17, "rowPadding": 6, "labelOffset": 5, "symbolOffset": -2}}
              }
            },
            {
              "data": {"name": "xrd_peaks"},
              "mark": {"type": "rule", "strokeWidth": 1.2},
              "encoding": {
                "x": {"field": "angle", "type": "quantitative"},
                "y": {"field": "top", "type": "quantitative"},
                "y2": {"datum": 0}
              }
            },
            {
              "data": {"name": "xrd_peaks"},
              "transform": [{"filter": "datum.label === '1.92 nm'"}],
              "mark": {"type": "text", "baseline": "middle", "align": "center", "fontSize": 13.5},
              "encoding": {
                "x": {"field": "lx", "type": "quantitative"},
                "y": {"field": "ly", "type": "quantitative"},
                "text": {"field": "label", "type": "nominal"}
              }
            },
            {
              "data": {"name": "xrd_peaks"},
              "transform": [{"filter": "datum.label === '1.55 nm'"}],
              "mark": {"type": "text", "baseline": "middle", "align": "center", "fontSize": 15.5},
              "encoding": {
                "x": {"field": "lx", "type": "quantitative"},
                "y": {"field": "ly", "type": "quantitative"},
                "text": {"field": "label", "type": "nominal"}
              }
            },
            {
              "data": {"values": [{"panel": "c)", "angle": 0.712, "intensity": 2.34}]},
              "mark": {"type": "text", "fontSize": 30, "align": "left", "baseline": "alphabetic"},
              "encoding": {
                "x": {"field": "angle", "type": "quantitative"},
                "y": {"field": "intensity", "type": "quantitative"},
                "text": {"field": "panel", "type": "nominal"}
              }
            }
          ],
          "resolve": {"scale": {"color": "independent"}}
        },
        {
          "width": 372,
          "height": 240,
          "data": {"name": "zeta"},
          "encoding": {
            "y": {"field": "row", "type": "quantitative", "scale": {"domain": [-2.47, 7.53], "reverse": true}, "axis": null}
          },
          "layer": [
            {
              "data": {"values": [{"edge": "top", "row": -0.55}, {"edge": "header", "row": 0.45}, {"edge": "bottom", "row": 6.49}]},
              "mark": {"type": "rule", "color": "#333333"},
              "encoding": {
                "strokeWidth": {"condition": {"test": "datum.edge === 'header'", "value": 1.3}, "value": 2}
              }
            },
            {
              "mark": {"type": "text", "font": "Liberation Serif", "fontSize": 20, "align": "left", "baseline": "middle", "color": "#000000"},
              "encoding": {
                "x": {"datum": 0.028, "type": "quantitative", "scale": {"domain": [0, 1]}, "axis": null},
                "text": {"field": "name", "type": "nominal"}
              }
            },
            {
              "mark": {"type": "text", "font": "Liberation Serif", "fontSize": 20, "align": "center", "baseline": "middle", "color": "#000000"},
              "encoding": {
                "x": {"datum": 0.757, "type": "quantitative", "scale": {"domain": [0, 1]}, "axis": null},
                "text": {"field": "zeta", "type": "nominal"}
              }
            },
            {
              "data": {"values": [{"panel": "a)", "row": 0.11, "col": -0.137}]},
              "mark": {"type": "text", "fontSize": 31, "align": "left", "baseline": "alphabetic", "color": "#000000"},
              "encoding": {
                "x": {"field": "col", "type": "quantitative", "scale": {"domain": [0, 1]}, "axis": null},
                "text": {"field": "panel", "type": "nominal"}
              }
            }
          ]
        }
      ]
    }
  ]
}
